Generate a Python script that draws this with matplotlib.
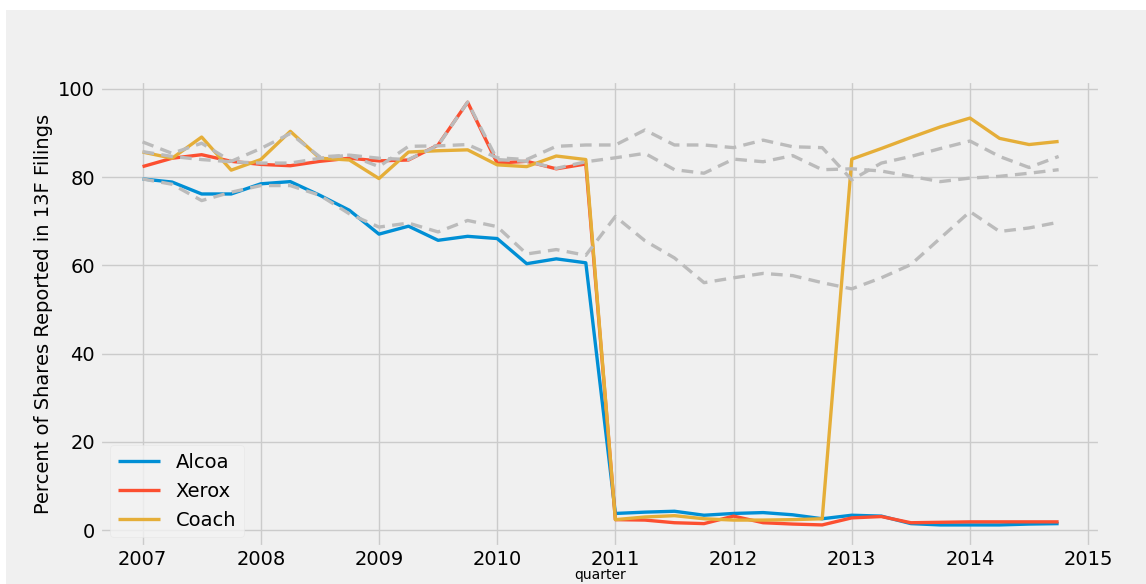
import numpy as np
import matplotlib
matplotlib.use("Agg")
import matplotlib.pyplot as plt
from matplotlib.patches import Rectangle

plt.style.use("fivethirtyeight")

# quarters 2007Q1 .. 2014Q4
quarter = 2007 + np.arange(32) / 4

alcoa = [79.6, 78.9, 76.2, 76.2, 78.5, 79.0, 75.9, 72.5, 67.1, 68.9, 65.7, 66.6,
         66.1, 60.4, 61.5, 60.6, 3.8, 4.1, 4.3, 3.4, 3.8, 4.0, 3.5, 2.6,
         3.4, 3.2, 1.5, 1.2, 1.2, 1.2, 1.4, 1.5]
xerox = [82.4, 84.3, 85.1, 83.6, 82.9, 82.6, 83.6, 84.3, 83.7, 83.9, 87.3, 97.0,
         83.2, 83.6, 81.9, 83.0, 2.4, 2.3, 1.7, 1.5, 3.2, 1.7, 1.4, 1.2,
         2.8, 3.1, 1.7, 1.8, 1.9, 1.9, 1.9, 1.9]
coach = [85.7, 84.3, 89.1, 81.6, 84.0, 90.4, 84.3, 83.9, 79.7, 85.7, 86.0, 86.2,
         82.8, 82.4, 84.8, 84.0, 2.4, 3.0, 3.3, 2.6, 2.3, 2.3, 2.4, 2.6,
         84.1, 86.5, 89.0, 91.4, 93.4, 88.8, 87.4, 88.1]

# grey dashed comparison series
alcoa_ref = [79.6, 78.4, 74.7, 76.6, 78.1, 78.1, 75.9, 71.7, 68.7, 69.6, 67.6, 70.2,
             68.8, 62.6, 63.6, 62.3, 71.1, 65.6, 61.7, 56.1, 57.2, 58.2, 57.7, 56.1,
             54.7, 57.2, 60.2, 66.2, 72.2, 67.7, 68.5, 69.8]
xerox_ref = [85.8, 84.7, 84.0, 83.5, 83.2, 83.2, 84.3, 85.0, 84.3, 84.0, 87.2, 97.0,
             84.0, 83.6, 82.0, 83.5, 84.4, 85.4, 81.7, 80.9, 84.1, 83.5, 84.9, 81.7,
             81.9, 81.4, 80.2, 79.0, 79.8, 80.2, 80.9, 81.7]
coach_ref = [88.0, 85.4, 87.7, 83.6, 86.5, 89.9, 84.6, 85.0, 82.4, 87.0, 87.1, 87.4,
             84.4, 84.0, 87.0, 87.3, 87.3, 90.7, 87.3, 87.3, 86.7, 88.4, 86.9, 86.7,
             79.4, 83.2, 84.7, 86.5, 88.2, 84.7, 82.2, 84.7]

fig = plt.figure(figsize=(11.46, 5.84), dpi=100, facecolor="white")
fig.add_artist(Rectangle((6 / 1146, 0), 1, 574 / 584, transform=fig.transFigure,
                         facecolor="#f0f0f0", edgecolor="none", zorder=-10))
ax = fig.add_axes([100 / 1146, 37 / 584, 1000 / 1146, 466 / 584])

ax.plot(quarter, alcoa, color="#008fd5", lw=2.4, label="Alcoa")
ax.plot(quarter, xerox, color="#fc4f30", lw=2.4, label="Xerox")
ax.plot(quarter, coach, color="#e5ae38", lw=2.4, label="Coach")
for ref in (alcoa_ref, xerox_ref, coach_ref):
    ax.plot(quarter, ref, color="#bbbbbb", lw=2.4, ls=(0, (3.5, 2.2)))

ax.set_xticks(range(2007, 2016))
ax.set_xticklabels([str(y) for y in range(2007, 2016)])
ax.set_yticks([0, 20, 40, 60, 80, 100])
ax.set_xlim(2006.64, 2015.1)
ax.set_ylim(-3.8, 101.8)
ax.tick_params(labelsize=14)
ax.tick_params(axis="x", pad=2.5)
ax.set_ylabel("Percent of Shares Reported in 13F Filings", fontsize=14)
ax.set_xlabel("quarter", fontsize=10, labelpad=-1)

ax.legend(loc="lower left", fontsize=14, frameon=True, facecolor="#f3f3f3",
          edgecolor="#e6e6e6", handlelength=2.2)

fig.savefig("out.png", dpi=100, facecolor=fig.get_facecolor())
